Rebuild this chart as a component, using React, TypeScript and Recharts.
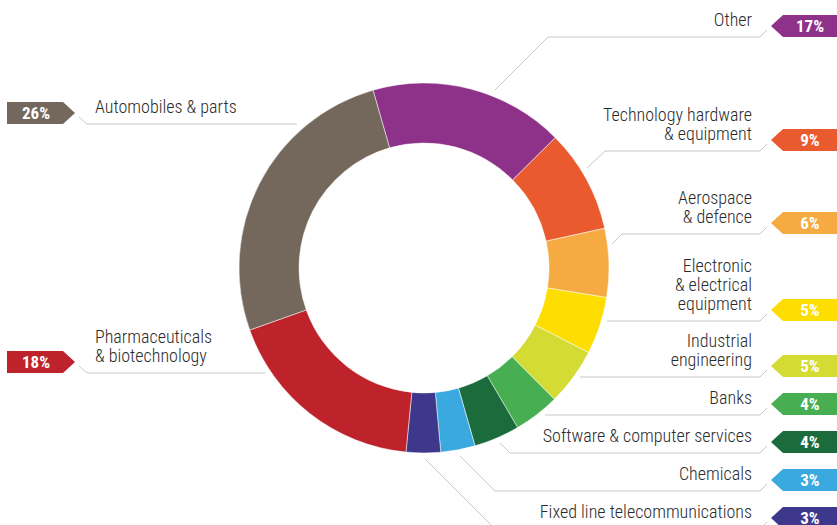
import { PieChart, Pie, Cell } from 'recharts';

// sector shares (%), read clockwise from the top
const SECTORS = [
  'Other',
  'Technology hardware\n& equipment',
  'Aerospace\n& defence',
  'Electronic\n& electrical\nequipment',
  'Industrial\nengineering',
  'Banks',
  'Software & computer services',
  'Chemicals',
  'Fixed line telecommunications',
  'Pharmaceuticals\n& biotechnology',
  'Automobiles & parts',
];
const SHARES = [17, 9, 6, 5, 5, 4, 4, 3, 3, 18, 26];
const COLORS = [
  '#8e3189', '#e95a2f', '#f6ab42', '#fedd00', '#d4db33',
  '#47ae51', '#1b6b3c', '#39a9e0', '#3d388c', '#be232c', '#74675c',
];

// leader line layout: side, y of the horizontal rule, where the rule starts, optional kink start
const LAYOUT: { side: 'l' | 'r'; y: number; x0: number; from?: [number, number] }[] = [
  { side: 'r', y: 37, x0: 548, from: [495, 90] },
  { side: 'r', y: 151, x0: 605, from: [587, 168] },
  { side: 'r', y: 234, x0: 622, from: [612, 244] },
  { side: 'r', y: 321, x0: 607 },
  { side: 'r', y: 377, x0: 580 },
  { side: 'r', y: 415, x0: 545 },
  { side: 'r', y: 453, x0: 510, from: [500, 443] },
  { side: 'r', y: 491, x0: 495, from: [460, 456] },
  { side: 'r', y: 529, x0: 495, from: [425, 459] },
  { side: 'l', y: 373, x0: 265 },
  { side: 'l', y: 124, x0: 297 },
];

const data = SECTORS.map((name, i) => ({ name, value: SHARES[i] }));

const FONT = "'Roboto Condensed', 'Liberation Sans Narrow', 'DejaVu Sans Condensed', Roboto, sans-serif";
const LINE = '#c8c8c8';
const INK = '#2b2b2b';

function renderLabel(props: any) {
  const i = props.index;
  const l = LAYOUT[i];
  const lines = SECTORS[i].split('\n');
  const c = l.y - 11;
  const pct = `${SHARES[i]}%`;
  if (l.side === 'r') {
    const pts = [
      ...(l.from ? [l.from] : []),
      [l.x0, l.y], [760, l.y], [767, l.y - 7],
    ].map(p => p.join(',')).join(' ');
    return (
      <g key={`lbl-${i}`}>
        <polyline points={pts} fill="none" stroke={LINE} strokeWidth={1} />
        <polygon
          points={`771,${c} 783,${c - 11} 837,${c - 11} 837,${c + 11} 783,${c + 11}`}
          fill={COLORS[i]}
        />
        <text x={810} y={c + 6} textAnchor="middle" fill="#fff" fontFamily={FONT} fontWeight={700} fontSize={17}>
          {pct}
        </text>
        {lines.map((t, k) => (
          <text key={k} x={752} y={c - (lines.length - 1 - k) * 19} textAnchor="end" fill={INK} fontFamily={FONT} fontWeight={300} fontSize={18}>
            {t}
          </text>
        ))}
      </g>
    );
  }
  const pts = [[79, l.y - 7], [87, l.y], [l.x0, l.y]].map(p => p.join(',')).join(' ');
  return (
    <g key={`lbl-${i}`}>
      <polyline points={pts} fill="none" stroke={LINE} strokeWidth={1} />
      <polygon points={`7,${c - 11} 63,${c - 11} 75,${c} 63,${c + 11} 7,${c + 11}`} fill={COLORS[i]} />
      <text x={36} y={c + 6} textAnchor="middle" fill="#fff" fontFamily={FONT} fontWeight={700} fontSize={17}>
        {pct}
      </text>
      {lines.map((t, k) => (
        <text key={k} x={95} y={c - (lines.length - 1 - k) * 19} textAnchor="start" fill={INK} fontFamily={FONT} fontWeight={300} fontSize={18}>
          {t}
        </text>
      ))}
    </g>
  );
}

export default function App() {
  return (
    <div style={{ position: 'absolute', left: 0, top: 0, width: 837, height: 525, background: '#fff' }}>
      <PieChart width={837} height={525} margin={{ top: 0, right: 0, bottom: 0, left: 0 }}>
        <Pie
          data={data}
          dataKey="value"
          nameKey="name"
          cx={424}
          cy={268}
          innerRadius={125}
          outerRadius={185}
          startAngle={106}
          endAngle={-254}
          stroke="#fff"
          strokeWidth={0.5}
          label={renderLabel}
          labelLine={false}
          isAnimationActive={false}
        >
          {data.map((d, i) => (
            <Cell key={`cell-${i}`} fill={COLORS[i]} />
          ))}
        </Pie>
      </PieChart>
    </div>
  );
}
